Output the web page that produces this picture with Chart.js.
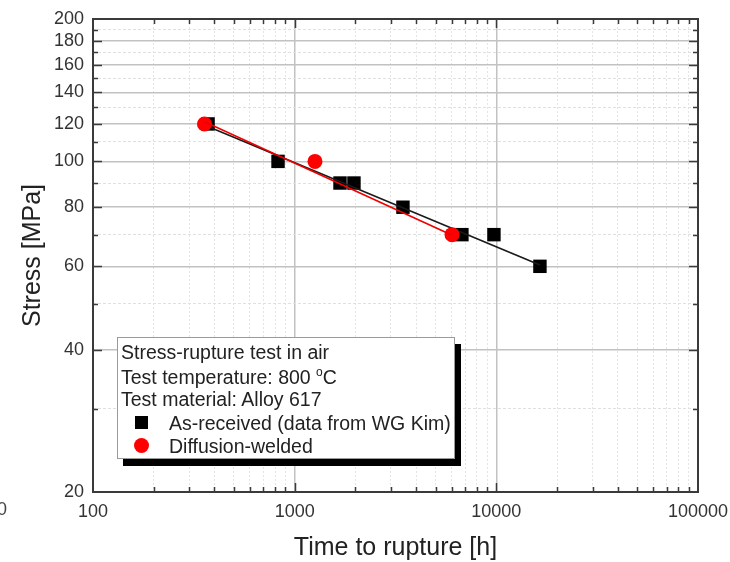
<!DOCTYPE html>
<html>
<head>
<meta charset="utf-8">
<script src="https://cdn.jsdelivr.net/npm/chart.js@4.4.1/dist/chart.umd.min.js"></script>
<style>
html,body{margin:0;padding:0;background:#fff;}
#wrap{position:relative;width:730px;height:562px;overflow:hidden;}
#c{position:absolute;left:0;top:0;}
.legend{position:absolute;left:117px;top:337px;width:336px;height:120px;background:#fff;border:1px solid #9a9a9a;box-shadow:6px 7px 0 #000;font-family:"Liberation Sans",Arial,sans-serif;font-size:19.5px;color:#222;}
.row{position:absolute;left:3px;white-space:nowrap;line-height:22px;height:22px;}
.row sup{font-size:12px;vertical-align:baseline;position:relative;top:-8px;}
.mk-sq{position:absolute;left:17px;width:13px;height:13px;background:#000;}
.mk-ci{position:absolute;left:16px;width:15px;height:15px;border-radius:50%;background:#f00;}
.stray{position:absolute;left:-3px;top:499px;font-family:"Liberation Sans",Arial,sans-serif;font-size:18px;color:#444;}
</style>
</head>
<body>
<div id="wrap">
<canvas id="c" width="730" height="562"></canvas>
<div class="stray">0</div>
<div class="legend">
  <div class="row" style="top:3px">Stress-rupture test in air</div>
  <div class="row" style="top:28px">Test temperature: 800 <sup>o</sup>C</div>
  <div class="row" style="top:50px">Test material: Alloy 617</div>
  <div class="mk-sq" style="top:78px"></div>
  <div class="row" style="top:74px;left:51px">As-received (data from WG Kim)</div>
  <div class="mk-ci" style="top:100px"></div>
  <div class="row" style="top:97px;left:51px">Diffusion-welded</div>
</div>
</div>
<script>
// ---- data ----
const asReceivedTime   = [372, 827, 1678, 1968, 3443, 6750, 9730, 16450];
const asReceivedStress = [120, 100, 90, 90, 80, 70, 70, 60];
const weldedTime   = [357, 1261, 6030];
const weldedStress = [120, 100, 70];
// fitted trend lines (end points)
const asReceivedFitTime   = [374, 16450];
const asReceivedFitStress = [118.4, 60.4];
const weldedFitTime   = [357, 6000];
const weldedFitStress = [121.3, 69.9];
// axes
const xTickValues = [100,200,300,400,500,600,700,800,900,
                     1000,2000,3000,4000,5000,6000,7000,8000,9000,
                     10000,20000,30000,40000,50000,60000,70000,80000,90000,100000];
const xTickLabels = [100, 1000, 10000, 100000];
const yTickValues = [20,30,40,50,60,70,80,90,100,110,120,130,140,150,160,170,180,190,200];
const yTickLabels = [20,40,60,80,100,120,140,160,180,200];

const FONT = '"Liberation Sans", Arial, sans-serif';
const isXMajor = v => xTickLabels.includes(v);
const isYMajor = v => yTickLabels.includes(v);

const pts = (xs, ys) => xs.map((x, i) => ({x: x, y: ys[i]}));

const framePlugin = {
  id: 'frame',
  afterDraw(chart) {
    const {ctx, chartArea: a, scales} = chart;
    ctx.save();
    ctx.strokeStyle = '#3a3a3a';
    ctx.lineWidth = 1.5;
    ctx.beginPath();
    scales.x.ticks.forEach(t => {
      if (t.value <= xTickValues[0] || t.value >= xTickValues[xTickValues.length-1]) return;
      const p = Math.round(scales.x.getPixelForValue(t.value)) + 0.5;
      const len = isXMajor(t.value) ? 9 : 5;
      ctx.moveTo(p, a.bottom); ctx.lineTo(p, a.bottom - len);
      ctx.moveTo(p, a.top); ctx.lineTo(p, a.top + len);
    });
    scales.y.ticks.forEach(t => {
      if (t.value <= yTickValues[0] || t.value >= yTickValues[yTickValues.length-1]) return;
      const p = Math.round(scales.y.getPixelForValue(t.value)) + 0.5;
      const len = isYMajor(t.value) ? 9 : 5;
      ctx.moveTo(a.left, p); ctx.lineTo(a.left + len, p);
      ctx.moveTo(a.right, p); ctx.lineTo(a.right - len, p);
    });
    ctx.stroke();
    ctx.lineWidth = 2;
    ctx.strokeStyle = '#3a3a3a';
    ctx.strokeRect(a.left, a.top, a.right - a.left, a.bottom - a.top);
    ctx.restore();
  }
};

new Chart(document.getElementById('c'), {
  type: 'scatter',
  data: {
    datasets: [
      { label: 'As-received (data from WG Kim)', data: pts(asReceivedTime, asReceivedStress),
        pointStyle: 'rect', pointRadius: 9.5, backgroundColor: '#000', borderColor: '#000', borderWidth: 0, order: 4 },
      { type: 'line', label: 'As-received fit', data: pts(asReceivedFitTime, asReceivedFitStress),
        borderColor: '#1a1a1a', borderWidth: 1.6, pointRadius: 0, fill: false, order: 3 },
      { label: 'Diffusion-welded', data: pts(weldedTime, weldedStress),
        pointStyle: 'circle', pointRadius: 7.5, backgroundColor: '#ff0000', borderColor: '#ff0000', borderWidth: 0, order: 2 },
      { type: 'line', label: 'Diffusion-welded fit', data: pts(weldedFitTime, weldedFitStress),
        borderColor: '#ee0000', borderWidth: 1.6, pointRadius: 0, fill: false, order: 1 }
    ]
  },
  options: {
    responsive: false,
    animation: false,
    devicePixelRatio: 1,
    layout: { padding: { left: 0, right: 32, top: 19, bottom: 0 } },
    plugins: { legend: { display: false }, tooltip: { enabled: false } },
    scales: {
      x: {
        type: 'logarithmic', min: 100, max: 100000,
        afterBuildTicks: s => { s.ticks = xTickValues.map(v => ({value: v, major: isXMajor(v)})); },
        afterFit: s => { s.height = 70; s.paddingLeft = 0; s.paddingRight = 0; },
        ticks: { autoSkip: false, maxRotation: 0, padding: 9, color: '#333',
                 font: { family: FONT, size: 18 },
                 callback: v => isXMajor(v) ? String(v) : '' },
        grid: { drawTicks: false,
                color: c => (c.tick && isXMajor(c.tick.value)) ? '#c2c2c2' : '#e4e4e4',
                lineWidth: c => (c.tick && isXMajor(c.tick.value)) ? 1.5 : 1 },
        border: { display: false, dash: c => (c.tick && !isXMajor(c.tick.value)) ? [2, 2] : [] },
        title: { display: true, text: 'Time to rupture [h]', color: '#222',
                 font: { family: FONT, size: 25, lineHeight: 1 }, padding: { top: 0, bottom: 1 } }
      },
      y: {
        type: 'logarithmic', min: 20, max: 200,
        afterBuildTicks: s => { s.ticks = yTickValues.map(v => ({value: v, major: isYMajor(v)})); },
        afterFit: s => { s.width = 93; s.paddingTop = 0; s.paddingBottom = 0; },
        ticks: { autoSkip: false, padding: 9, color: '#333',
                 font: { family: FONT, size: 18 },
                 callback: v => isYMajor(v) ? String(v) : '' },
        grid: { drawTicks: false,
                color: c => (c.tick && isYMajor(c.tick.value)) ? '#c2c2c2' : '#e0e0e0',
                lineWidth: c => (c.tick && isYMajor(c.tick.value)) ? 1.5 : 1 },
        border: { display: false, dash: c => (c.tick && !isYMajor(c.tick.value)) ? [3, 2] : [] },
        title: { display: true, text: 'Stress [MPa]', color: '#222',
                 font: { family: FONT, size: 25, lineHeight: 1 }, padding: { top: 21, bottom: 0 } }
      }
    }
  },
  plugins: [framePlugin]
});
</script>
</body>
</html>
